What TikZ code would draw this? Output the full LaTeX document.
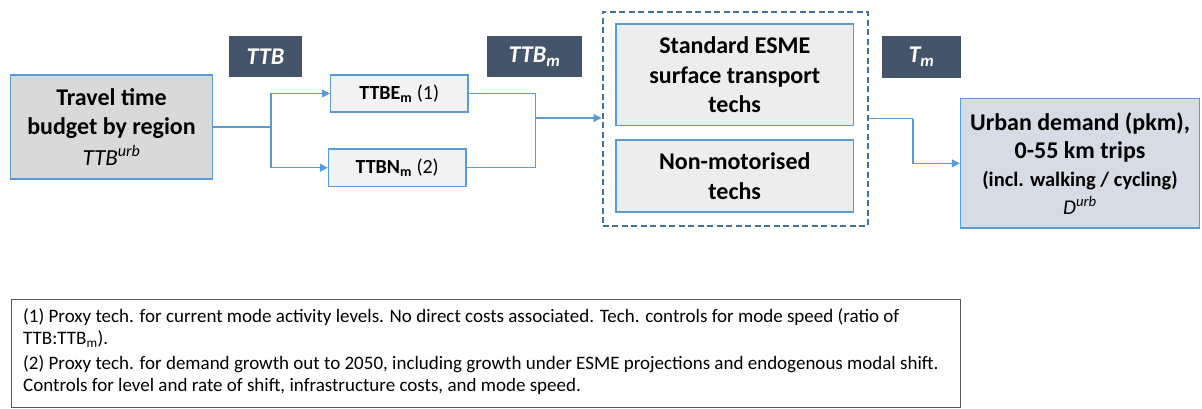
\documentclass[tikz,border=0pt]{standalone}
\usepackage{fontspec}
\setmainfont{Carlito}
\usetikzlibrary{arrows.meta}
\definecolor{boxblue}{HTML}{5B9BD5}
\definecolor{dashblue}{HTML}{41719C}
\definecolor{slate}{HTML}{44546A}
\definecolor{grayA}{HTML}{D9D9D9}
\definecolor{grayB}{HTML}{F2F2F2}
\definecolor{grayC}{HTML}{EDEDED}
\definecolor{urbfill}{HTML}{D6DCE5}
\definecolor{notegray}{HTML}{595959}
\tikzset{
  bx/.style={draw=boxblue, line width=1.2pt, inner sep=0pt, align=center},
  lbl/.style={fill=slate, text=white, inner sep=0pt, font=\fontsize{24}{28}\selectfont\bfseries\itshape},
  conn/.style={draw=boxblue, line width=1.1pt, -{Triangle[width=8pt,length=8pt]}},
  connplain/.style={draw=boxblue, line width=1.1pt},
}
\newcommand{\bigb}{\fontsize{24}{29.5}\selectfont\bfseries}
\begin{document}
\begin{tikzpicture}[x=1pt,y=-1pt]
\useasboundingbox (0,0) rectangle (1202,408);
% main boxes
\node[bx, fill=grayA, minimum width=202pt, minimum height=104pt, font=\bigb] (ttb) at (111.5,127)
  {Travel time\\ budget by region\\[1pt] \fontsize{23}{28}\selectfont\mdseries\itshape TTB\textsuperscript{urb}};
\node[lbl, minimum width=73pt, minimum height=41pt] (lttb) at (265.5,56.5) {TTB};
\node[lbl, minimum width=95pt, minimum height=41pt] (lttbm) at (534.5,56.5) {TTB\textsubscript{m}};
\node[lbl, minimum width=79pt, minimum height=41.5pt] (ltm) at (921.5,56.75) {T\textsubscript{m}};
\node[bx, fill=grayB, minimum width=137.5pt, minimum height=37pt, font=\fontsize{20}{24}\selectfont] (ttbe) at (399.25,93.5)
  {\textbf{TTBE\textsubscript{m}} (1)};
\node[bx, fill=grayB, minimum width=137.5pt, minimum height=37.5pt, font=\fontsize{20}{24}\selectfont] (ttbn) at (397.25,167.75)
  {\textbf{TTBN\textsubscript{m}} (2)};
\node[draw=dashblue, line width=2pt, dash pattern=on 6pt off 3.5pt, minimum width=265pt, minimum height=214.5pt, inner sep=0pt] (grp) at (735,118.75) {};
\node[bx, fill=grayC, minimum width=237.5pt, minimum height=101.5pt, font=\bigb] (std) at (734.75,74.75)
  {Standard ESME\\ surface transport\\ techs};
\node[bx, fill=grayC, minimum width=237.5pt, minimum height=72pt, font=\bigb] (nm) at (734.75,176)
  {Non-motorised\\ techs};
\node[bx, fill=urbfill, minimum width=239pt, minimum height=129.3pt, font=\fontsize{24}{28}\selectfont\bfseries] (urb) at (1080,163.35)
  {Urban demand (pkm),\\ 0-55 km trips\\ \fontsize{20.5}{24}\selectfont (incl. walking / cycling)\\ \fontsize{21}{25}\selectfont\mdseries\itshape D\textsuperscript{urb}};
% note box
\node[draw=notegray, line width=1pt, minimum width=949.5pt, minimum height=108pt, inner sep=0pt] (note) at (485.75,353) {};
\node[anchor=north west, align=left, inner sep=0pt, font=\fontsize{19}{22}\selectfont] (notetext) at (23,308.5)
  {(1) Proxy tech. for current mode activity levels. No direct costs associated. Tech. controls for mode speed (ratio of\\
   TTB:TTB\textsubscript{m}).\\[3pt]
   (2) Proxy tech. for demand growth out to 2050, including growth under ESME projections and endogenous modal shift.\\
   Controls for level and rate of shift, infrastructure costs, and mode speed.};
% connectors
\coordinate (s1) at (271,127);
\coordinate (j1) at (535.7,118);
\coordinate (j2) at (913,118.7);
\draw[connplain] (ttb.east) -- (s1);
\draw[conn] (s1) |- (ttbe.west);
\draw[conn] (s1) |- (ttbn.west);
\draw[connplain] (ttbe.east) -| (j1);
\draw[connplain] (ttbn.east) -| (j1);
\draw[conn] (j1) -- (grp.west |- j1);
\draw[connplain] (grp.east |- j2) -- (j2);
\draw[conn] (j2) |- (urb.west);
\end{tikzpicture}
\end{document}
